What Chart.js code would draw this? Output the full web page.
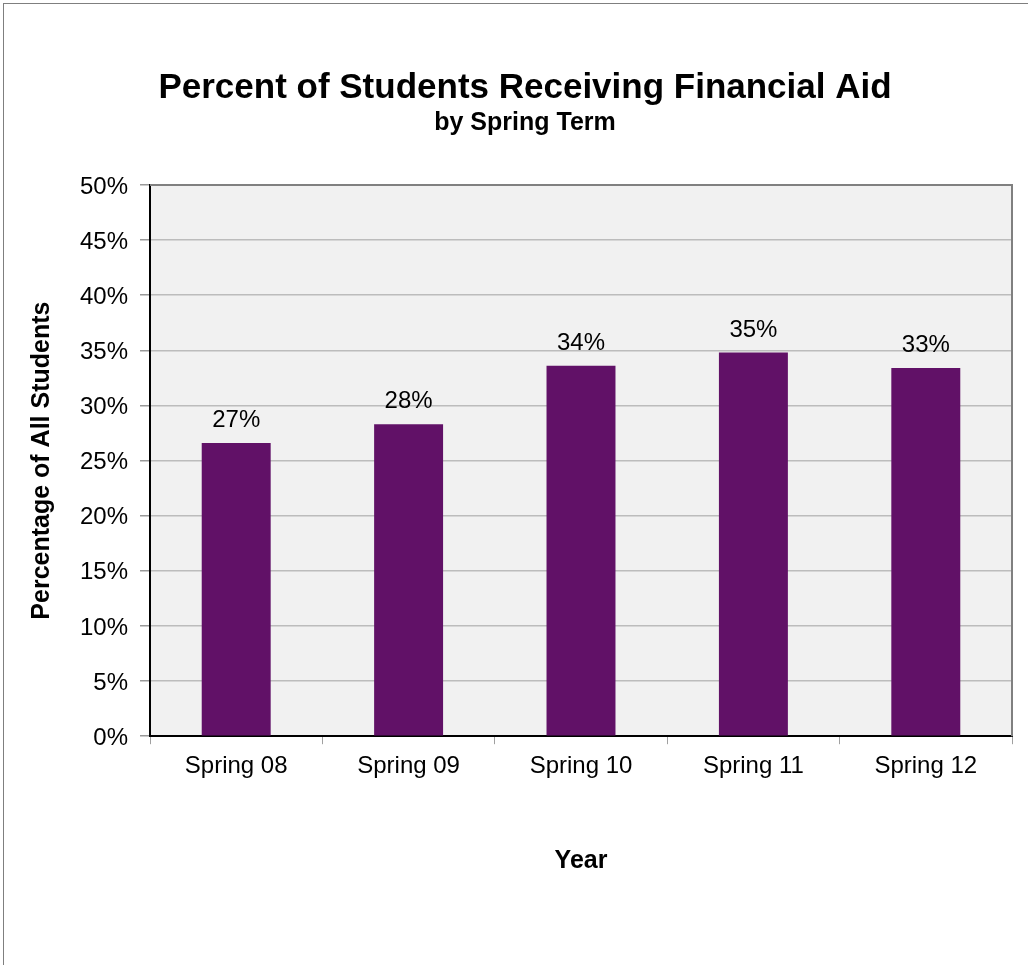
<!DOCTYPE html>
<html>
<head>
<meta charset="utf-8">
<title>Percent of Students Receiving Financial Aid</title>
<script src="https://cdn.jsdelivr.net/npm/chart.js@4.4.1/dist/chart.umd.min.js"></script>
<style>
    html, body { margin: 0; padding: 0; background: #fff; }
    #wrap { position: relative; width: 1028px; height: 965px; overflow: hidden; }
    #frame {
        position: absolute; left: 3px; top: 3px; width: 1040px; height: 980px;
        border: 1px solid #7f7f7f; box-sizing: border-box;
    }
    #chart { position: absolute; left: 0; top: 0; }
</style>
</head>
<body>
<div id="wrap">
    <div id="frame"></div>
    <canvas id="chart" width="1028" height="965"></canvas>
</div>
<script>
    // spring terms and share of students on aid (%)
    const terms = ["Spring 08", "Spring 09", "Spring 10", "Spring 11", "Spring 12"];
    const aidPercent = [26.6, 28.3, 33.6, 34.8, 33.4];
    const yTicks = [0, 5, 10, 15, 20, 25, 30, 35, 40, 45, 50];

    const FONT = "'Liberation Sans', Arial, Helvetica, sans-serif";
    const BAR_COLOR = "#611167";

    // grey plot background plus the grey top/right edges of the plot box
    const plotBox = {
        id: "plotBox",
        beforeDraw(chart) {
            const { ctx, chartArea: a } = chart;
            ctx.save();
            ctx.fillStyle = "#f1f1f1";
            ctx.fillRect(a.left, a.top, a.right - a.left, a.bottom - a.top);
            ctx.restore();
        },
        beforeDatasetsDraw(chart) {
            const { ctx, chartArea: a } = chart;
            ctx.save();
            ctx.strokeStyle = "#808080";
            ctx.lineWidth = 2;
            ctx.beginPath();
            ctx.moveTo(a.left, a.top);
            ctx.lineTo(a.right, a.top);
            ctx.lineTo(a.right, a.bottom);
            ctx.stroke();
            ctx.restore();
        }
    };

    // value labels sitting above each bar
    const barLabels = {
        id: "barLabels",
        afterDatasetsDraw(chart) {
            const { ctx } = chart;
            const meta = chart.getDatasetMeta(0);
            ctx.save();
            ctx.font = "24px " + FONT;
            ctx.fillStyle = "#000";
            ctx.textAlign = "center";
            ctx.textBaseline = "alphabetic";
            meta.data.forEach((bar, i) => {
                ctx.fillText(Math.round(aidPercent[i]) + "%", bar.x, bar.y - 16);
            });
            ctx.restore();
        }
    };

    new Chart(document.getElementById("chart"), {
        type: "bar",
        data: {
            labels: terms,
            datasets: [{
                data: aidPercent,
                backgroundColor: BAR_COLOR,
                borderWidth: 0,
                categoryPercentage: 1,
                barPercentage: 0.4
            }]
        },
        options: {
            responsive: false,
            animation: false,
            events: [],
            layout: { padding: { left: 38, right: 16, top: 0, bottom: 89 } },
            plugins: {
                legend: { display: false },
                tooltip: { enabled: false },
                title: {
                    display: true,
                    text: "Percent of Students Receiving Financial Aid",
                    color: "#000",
                    font: { family: FONT, size: 35, weight: "bold", lineHeight: 1 },
                    padding: { top: 71, bottom: 0 }
                },
                subtitle: {
                    display: true,
                    text: "by Spring Term",
                    color: "#000",
                    font: { family: FONT, size: 25, weight: "bold", lineHeight: 1 },
                    padding: { top: 5, bottom: 49 }
                }
            },
            scales: {
                x: {
                    grid: {
                        offset: true,
                        drawOnChartArea: false,
                        drawTicks: true,
                        tickLength: 8,
                        color: "#a0a0a0"
                    },
                    border: { display: true, color: "#000", width: 2 },
                    ticks: {
                        color: "#000",
                        padding: 8,
                        font: { family: FONT, size: 24 }
                    },
                    title: {
                        display: true,
                        text: "Year",
                        color: "#000",
                        font: { family: FONT, size: 25, weight: "bold" },
                        padding: { top: 57, bottom: 0 }
                    }
                },
                y: {
                    min: 0,
                    max: 50,
                    afterFit(scale) { scale.width = 112; },
                    afterBuildTicks(scale) {
                        scale.ticks = yTicks.map(v => ({ value: v }));
                    },
                    grid: {
                        color: "#bcbcbc",
                        lineWidth: 1.5,
                        drawTicks: true,
                        tickLength: 10,
                        tickColor: "#999"
                    },
                    border: { display: true, color: "#000", width: 2 },
                    ticks: {
                        color: "#000",
                        padding: 12,
                        labelOffset: 2,
                        font: { family: FONT, size: 24 },
                        callback: v => v + "%"
                    },
                    title: {
                        display: true,
                        text: "Percentage of All Students",
                        color: "#000",
                        font: { family: FONT, size: 25, weight: "bold" },
                        padding: { top: -11, bottom: 0 }
                    }
                }
            }
        },
        plugins: [plotBox, barLabels]
    });
</script>
</body>
</html>
